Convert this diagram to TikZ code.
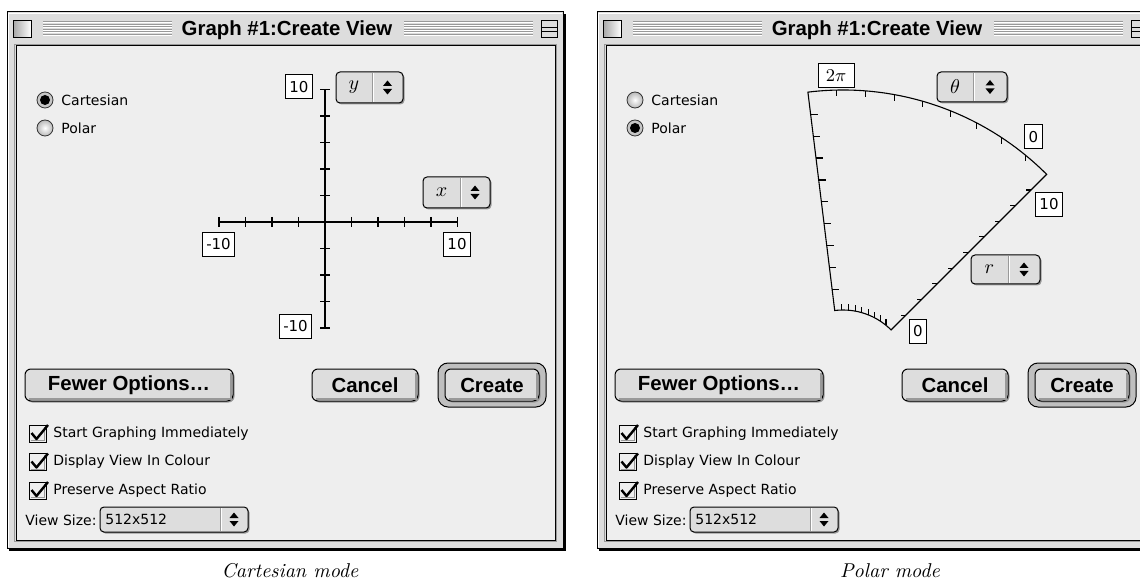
\documentclass[tikz,border=0pt]{standalone}
\usepackage{fontspec}
\newfontfamily\genevafont{DejaVu Sans}
\newfontfamily\charcoalfont{Liberation Sans}
\definecolor{wingray}{HTML}{DDDDDD}
\definecolor{panelgray}{HTML}{EEEEEE}
\definecolor{bevelgray}{HTML}{999999}
\tikzset{winframe/.style={fill=wingray, draw=black, line width=0.5pt},
         panel/.style={fill=panelgray, draw=black, line width=0.5pt},
         stripe/.style={draw=bevelgray, line width=0.5pt},
         numbox/.style={draw=black, fill=white, line width=0.5pt, inner xsep=2pt, inner ysep=0pt,
                        minimum height=12pt, font=\genevafont\fontsize{7.5}{8}\selectfont},
         guitext/.style={anchor=west, inner sep=0pt, font=\genevafont\fontsize{7}{8}\selectfont},
         titletext/.style={fill=wingray, inner sep=1pt, font=\charcoalfont\bfseries\fontsize{10.2}{12}\selectfont},
         btntext/.style={inner sep=0pt, font=\charcoalfont\bfseries\fontsize{10.2}{12}\selectfont},
         poptext/.style={inner sep=0pt, font=\fontsize{10}{11}\selectfont},
         popbox/.style={fill=wingray, draw=black, rounded corners=2pt, line width=0.5pt},
         btnbox/.style={fill=wingray, draw=black, rounded corners=3pt, line width=0.5pt},
         radioon/.style={circle, draw=black!80, fill=gray!45, minimum size=8pt, inner sep=0pt,
                         path picture={\fill[black] (path picture bounding box.center) circle (2.5pt);}},
         radiooff/.style={circle, draw=black!80, inner color=white, outer color=gray!55,
                          minimum size=8pt, inner sep=0pt},
         axis/.style={line width=0.7pt},
         polaraxis/.style={line width=0.55pt},
         caption/.style={anchor=base, inner sep=0pt, font=\itshape}}
% popup menu: x1, y1, x2, y2, divider
\newcommand{\popupmenu}[5]{%
  \fill[bevelgray, rounded corners=2pt] (#1+1.5,#2+1.5) rectangle (#3+1.5,#4+1.5);
  \draw[popbox] (#1,#2) rectangle (#3,#4);
  \draw[bevelgray] (#5,#2+1) -- (#5,#4-1);
  \draw[white] (#5+1,#2+1) -- (#5+1,#4-1);
  \fill ({(#5+#3)/2-4.5},{(#2+#4)/2-1.5}) -- ++(9,0) -- ++(-4.5,-5.5) -- cycle;
  \fill ({(#5+#3)/2-4.5},{(#2+#4)/2+1.5}) -- ++(9,0) -- ++(-4.5,5.5) -- cycle;}
% push button: x1, y1, x2, y2, text, name
\newcommand{\macbutton}[6]{%
  \fill[bevelgray, rounded corners=3pt] (#1+1.5,#2+1.5) rectangle (#3+1.5,#4+1.5);
  \draw[btnbox] (#1,#2) rectangle (#3,#4);
  \draw[bevelgray, line width=1pt] (#1+4,#4-2) -- (#3-2,#4-2) -- (#3-2,#2+4);
  \node[btntext] (#6) at ({(#1+#3)/2},{(#2+#4)/2}) {#5};}
% check box: top, text, name
\newcommand{\tickbox}[3]{%
  \draw[fill=panelgray, line width=0.5pt] (29,#1) rectangle (46,#1+17);
  \draw[bevelgray] (30.5,#1+15.5) -- (44.5,#1+15.5) -- (44.5,#1+1.5);
  \draw[line width=1.2pt, line join=round] (31.5,#1+8) -- (36.5,#1+14) -- (48,#1);
  \node[guitext] (#3) at (53,#1+8.5) {#2};}
% dialog window: x offset, prefix, cartesian radio, polar radio
\newcommand{\createview}[4]{%
\begin{scope}[shift={(#1,0)}]
\fill[black] (9,14) rectangle (565.5,551);
\draw[winframe] (7,12) rectangle (563,548);
\draw[white] (8.5,546.5) -- (8.5,13.5) -- (561.5,13.5);
\foreach \y in {22,24.5,...,34.5} {
  \draw[stripe] (43,\y) -- (172,\y);
  \draw[stripe] (404,\y) -- (533,\y);
  \draw[white, line width=0.5pt] (43,\y+1) -- (172,\y+1);
  \draw[white, line width=0.5pt] (404,\y+1) -- (533,\y+1);
}
\shade[left color=gray!70, right color=white] (13,21) rectangle (31,38);
\draw[line width=0.5pt] (13,21) rectangle (31,38);
\draw[fill=wingray, line width=0.5pt] (541,21) rectangle (557,38);
\draw[line width=0.5pt] (541,28) -- (557,28);
\draw[line width=0.5pt] (541,32) -- (557,32);
\node[titletext] (#2title) at (287,30) {Graph \#1:Create View};
\draw[bevelgray] (14.5,44.5) rectangle (556.5,541.5);
\draw[panel] (16,46) rectangle (555,540);
\node[#3] (#2cart) at (45,100) {};
\node[guitext] at (61,100) {Cartesian};
\node[#4] (#2polar) at (45,128) {};
\node[guitext] at (61,128) {Polar};
\macbutton{25}{369}{233}{401}{Fewer Options…}{#2fewer}
\macbutton{312}{369}{418}{401}{Cancel}{#2cancel}
\draw[fill=gray!50, draw=black, line width=0.5pt, rounded corners=5pt] (438,363) rectangle (546,407);
\macbutton{445}{369}{539}{401}{Create}{#2create}
\tickbox{425}{Start Graphing Immediately}{#2start}
\tickbox{453.5}{Display View In Colour}{#2colour}
\tickbox{482}{Preserve Aspect Ratio}{#2aspect}
\node[guitext] (#2sizelabel) at (25,520) {View Size:};
\popupmenu{100}{507}{248}{532}{220}
\node[guitext] (#2size) at (105,519.5) {512x512};
\end{scope}}

\begin{document}
\begin{tikzpicture}[x=0.5pt,y=-0.5pt]
\useasboundingbox (0,0) rectangle (1140,588);
\clip (0,0) rectangle (1140,588);
\fill[white] (0,0) rectangle (1140,588);
\createview{0}{L}{radioon}{radiooff}
\createview{590}{R}{radiooff}{radioon}
% cartesian axes
\draw[axis] (219,222) -- (457.5,222);
\draw[axis] (325,89.5) -- (325,328);
\foreach \i in {-4,...,5} \draw[axis] (325+\i*26.5,217) -- ++(0,10);
\foreach \i in {-5,...,4} \draw[axis] (320,222+\i*26.5) -- ++(10,0);
\node[numbox] (ymax) at (299,87) {10};
\node[numbox] (xmin) at (218.5,244.5) {-10};
\node[numbox] (xmax) at (457,244.5) {10};
\node[numbox] (ymin) at (295.5,326) {-10};
\popupmenu{336}{72}{403}{103}{372}
\node[poptext] (ypop) at (354,87.5) {$y$};
\popupmenu{423}{177}{490}{208}{460}
\node[poptext] (xpop) at (441.5,192.5) {$x$};
% polar wedge
\begin{scope}[shift={(843,378)},yscale=-1]
\draw[polaraxis] (45:68) -- (45:288) arc[start angle=45, end angle=97, radius=288]
  -- (97:68) arc[start angle=97, end angle=45, radius=68] -- cycle;
\foreach \k in {1,...,8} {
  \draw[polaraxis] ({97-\k*52/9}:288) -- ++(0,-6);
  \draw[polaraxis] ({97-\k*52/9}:68) -- ++(0,6);
}
\foreach \k in {0,...,8} {
  \draw[polaraxis] (97:89+\k*22.1) -- ++(7,0);
  \draw[polaraxis] (45:89+\k*22.1) -- ++(-5,0);
}
\end{scope}
\node[numbox, minimum width=18pt, font=\fontsize{9}{10}\selectfont] (tmax) at (836,76) {$2\pi$};
\node[numbox] (tmin) at (1033.5,137) {0};
\node[numbox] (rmax) at (1049,204.5) {10};
\node[numbox] (rmin) at (918,331.5) {0};
\popupmenu{937}{72}{1007}{102}{973}
\node[poptext] (tpop) at (955,87) {$\theta$};
\popupmenu{971}{255}{1040}{284}{1008}
\node[poptext] (rpop) at (989.5,269.5) {$r$};
\node[caption] (capcart) at (290,577) {Cartesian mode};
\node[caption] (cappolar) at (890,577) {Polar mode};
\end{tikzpicture}
\end{document}
